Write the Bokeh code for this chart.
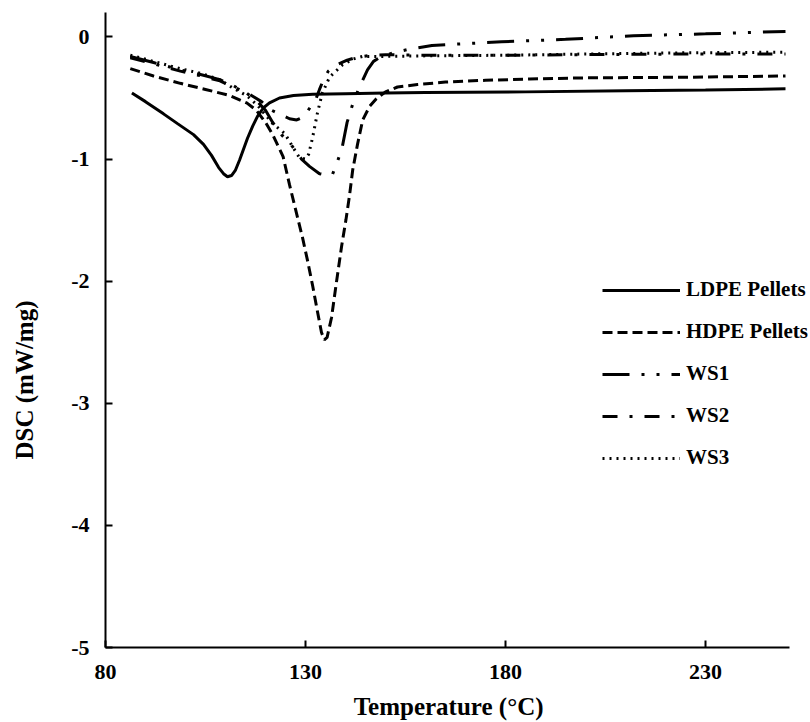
from bokeh.plotting import figure
from bokeh.models import Legend, LegendItem, FixedTicker, Range1d, CustomJSTickFormatter
from bokeh.embed import file_html
from bokeh.resources import INLINE

# ---- data (Temperature °C, DSC mW/mg) ----
ldpe_t = [86.6, 90, 94.5, 98, 102, 104.5, 106.5, 108.3, 109.5, 110.5, 111.5, 112.5, 113.5,
          114.5, 115.5, 116.8, 118, 119.5, 121, 123.5, 127, 131.8, 140, 150, 160, 185, 210,
          230, 250]
ldpe_v = [-0.46, -0.53, -0.63, -0.71, -0.80, -0.88, -0.97, -1.07, -1.12, -1.145, -1.135,
          -1.09, -1.01, -0.92, -0.83, -0.73, -0.65, -0.58, -0.54, -0.50, -0.48, -0.47,
          -0.465, -0.46, -0.455, -0.45, -0.44, -0.435, -0.425]

hdpe_t = [86.2, 92, 98.7, 105, 111.1, 115.3, 117.7, 120, 121.8, 124.4, 126, 127.5, 129.3,
          130.5, 131.8, 133, 134, 134.7, 135.4, 136.5, 137.6, 139, 140.1, 141, 141.8, 143,
          144.3, 146, 147.6, 150, 153, 158, 165, 175, 186, 200, 225, 250]
hdpe_v = [-0.26, -0.32, -0.38, -0.43, -0.48, -0.54, -0.60, -0.70, -0.80, -0.98, -1.21, -1.41,
          -1.65, -1.83, -2.04, -2.25, -2.42, -2.48, -2.46, -2.30, -2.04, -1.72, -1.50, -1.30,
          -1.09, -0.88, -0.68, -0.57, -0.51, -0.45, -0.41, -0.39, -0.37, -0.355, -0.345,
          -0.335, -0.33, -0.32]

ws1_t = [86.2, 92, 98.7, 104, 108.6, 112, 115.3, 118, 120, 121.8, 124, 126.8, 129, 131, 133.5,
         135, 136.7, 138, 139.2, 140.4, 141.8, 143, 144.2, 145.5, 147, 149, 152, 156, 161.6,
         170, 179, 195, 212, 230, 250]
ws1_v = [-0.16, -0.21, -0.27, -0.31, -0.35, -0.40, -0.46, -0.53, -0.60, -0.70, -0.80, -0.90,
         -1.00, -1.06, -1.12, -1.13, -1.13, -1.02, -0.90, -0.70, -0.55, -0.45, -0.36, -0.27,
         -0.20, -0.16, -0.13, -0.10, -0.07, -0.055, -0.04, -0.02, 0.01, 0.025, 0.045]

ws2_t = [86.2, 92, 98.7, 104, 108.6, 112, 116, 119, 121.5, 124.4, 126, 127.8, 129.2, 130.5,
         131.7, 132.7, 133.5, 134.5, 135.7, 137.7, 140.4, 143, 146.7, 150, 160, 180, 200,
         225, 250]
ws2_v = [-0.17, -0.22, -0.28, -0.32, -0.36, -0.41, -0.47, -0.53, -0.60, -0.645, -0.67, -0.68,
         -0.66, -0.61, -0.55, -0.50, -0.43, -0.35, -0.28, -0.23, -0.19, -0.165, -0.15,
         -0.145, -0.15, -0.15, -0.145, -0.14, -0.14]

ws3_t = [86.2, 92, 98.7, 104, 108.6, 111.9, 115.3, 118, 121.8, 124.8, 126.8, 128.5, 130,
         130.8, 131.8, 133, 134.2, 136, 139.2, 142, 144.2, 149, 160, 180, 200, 225, 250]
ws3_v = [-0.15, -0.20, -0.26, -0.30, -0.35, -0.42, -0.48, -0.56, -0.71, -0.79, -0.90, -0.99,
         -1.00, -0.96, -0.82, -0.62, -0.46, -0.33, -0.23, -0.18, -0.16, -0.16, -0.155,
         -0.15, -0.14, -0.13, -0.125]

series_names = ["LDPE Pellets", "HDPE Pellets", "WS1", "WS2", "WS3"]
x_ticks = [80, 130, 180, 230]
y_ticks = [-5, -4, -3, -2, -1, 0]
x_title = "Temperature (°C)"
y_title = "DSC (mW/mg)"

FONT = "Liberation Serif"
NB = "\u00a0"

p = figure(width=810, height=722, output_backend="svg", toolbar_location=None,
           x_range=Range1d(80, 256.25), y_range=Range1d(-5, 0.2),
           min_border_left=105, min_border_right=0, min_border_top=12, min_border_bottom=75)
p.outline_line_color = None
p.xgrid.visible = False
p.ygrid.visible = False
p.background_fill_color = "white"

styles = [
    dict(line_dash="solid"),
    dict(line_dash="10 5"),
    dict(line_dash="27 12 3 12 3 12"),
    dict(line_dash="15 12 3 12"),
    dict(line_dash="2 5"),
]
data = [(ldpe_t, ldpe_v), (hdpe_t, hdpe_v), (ws1_t, ws1_v), (ws2_t, ws2_v), (ws3_t, ws3_v)]
renderers = []
for (xs, ys), st in zip(data, styles):
    r = p.line(xs, ys, line_color="black", line_width=3, **st)
    renderers.append(r)

fmt = CustomJSTickFormatter(code="return tick.toString();")
for ax, ticks in ((p.xaxis[0], x_ticks), (p.yaxis[0], y_ticks)):
    ax.ticker = FixedTicker(ticks=ticks)
    ax.formatter = fmt
    ax.axis_line_color = "black"
    ax.axis_line_width = 2
    ax.major_tick_in = 7
    ax.major_tick_out = 0
    ax.major_tick_line_width = 2
    ax.minor_tick_line_color = None
    ax.major_label_text_font = FONT
    ax.major_label_text_font_style = "bold"
    ax.major_label_text_font_size = "22px"
    ax.major_label_text_color = "black"
    ax.axis_label_text_font = FONT
    ax.axis_label_text_font_style = "bold"
    ax.axis_label_text_font_size = "25px"
    ax.axis_label_text_color = "black"

p.xaxis[0].bounds = (80, 251)
p.xaxis[0].axis_label = x_title + NB * 3
p.yaxis[0].axis_label = y_title + NB * 16
p.xaxis[0].major_label_standoff = 17
p.xaxis[0].axis_label_standoff = 11
p.yaxis[0].major_label_standoff = 16
p.yaxis[0].axis_label_standoff = 30

legend = Legend(items=[LegendItem(label=n, renderers=[r]) for n, r in zip(series_names, renderers)],
                location=(497, 177), orientation="vertical")
legend.label_text_font = FONT
legend.label_text_font_style = "bold"
legend.label_text_font_size = "21px"
legend.label_text_color = "black"
legend.glyph_width = 78
legend.glyph_height = 24
legend.label_height = 24
legend.label_standoff = 6
legend.spacing = 17
legend.padding = 0
legend.margin = 0
legend.border_line_color = None
legend.background_fill_alpha = 0
p.add_layout(legend)

open("out.html", "w").write(file_html(p, INLINE))
